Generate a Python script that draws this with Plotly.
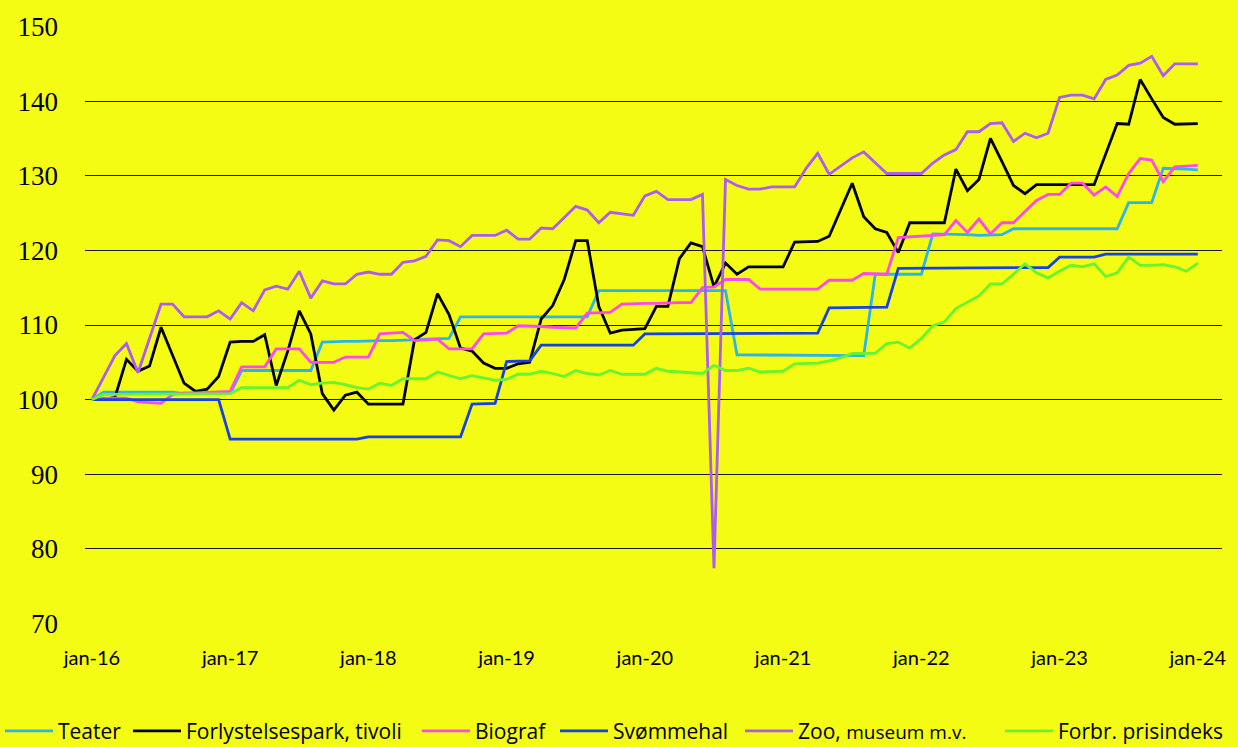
import plotly.graph_objects as go

# month labels jan-16 .. jan-24 (97 months)
mnd = ['jan', 'feb', 'mar', 'apr', 'maj', 'jun', 'jul', 'aug', 'sep', 'okt', 'nov', 'dec']
months = [f'{mnd[i % 12]}-{16 + i // 12}' for i in range(97)]
tick_labels = ['jan-16', 'jan-17', 'jan-18', 'jan-19', 'jan-20', 'jan-21', 'jan-22', 'jan-23', 'jan-24']

teater = [100, 101.0, 101.0, 101.0, 101.0, 101.0, 101.0, 101.0, 100.8, 100.8, 100.8, 100.8,
          100.8, 103.9, 103.9, 103.9, 103.9, 103.9, 103.9, 103.9, 107.7, 107.8, 107.8, 107.8,
          107.9, 107.9, 107.9, 108.0, 108.0, 108.1, 108.1, 108.2, 111.1, 111.1, 111.1, 111.1,
          111.1, 111.1, 111.1, 111.1, 111.1, 111.1, 111.1, 111.1, 114.6, 114.6, 114.6, 114.6,
          114.6, 114.6, 114.6, 114.6, 114.6, 114.6, 114.6, 114.6, 106.0, 106.0, 106.0, 106.0,
          106.0, 106.0, 105.9, 105.9, 105.9, 105.9, 105.9, 105.9, 116.8, 116.8, 116.8, 116.8,
          116.8, 122.2, 122.2, 122.2, 122.1, 122.0, 122.1, 122.1, 122.9, 122.9, 122.9, 122.9,
          122.9, 122.9, 122.9, 122.9, 122.9, 122.9, 126.4, 126.4, 126.4, 131.0, 131.0, 130.9,
          130.8]

tivoli = [100, 100, 100.3, 105.4, 103.8, 104.5, 109.7, 106.0, 102.2, 101.1, 101.4, 103.1,
          107.7, 107.8, 107.8, 108.7, 101.9, 106.5, 111.9, 108.8, 100.8, 98.6, 100.6, 101.0,
          99.4, 99.4, 99.4, 99.4, 108.0, 109.0, 114.2, 111.4, 106.9, 106.5, 104.9, 104.2,
          104.2, 104.8, 105.0, 110.8, 112.6, 116.1, 121.3, 121.3, 112.5, 108.9, 109.3, 109.4,
          109.5, 112.5, 112.5, 118.9, 121.0, 120.5, 115.1, 118.3, 116.8, 117.8, 117.8, 117.8,
          117.8, 121.1, 121.1, 121.2, 121.9, 125.5, 129.0, 124.5, 122.9, 122.4, 119.7, 123.7,
          123.7, 123.7, 123.7, 130.9, 128.0, 129.5, 135.0, 131.9, 128.7, 127.6, 128.8, 128.8,
          128.8, 128.8, 128.8, 128.8, 132.9, 137.0, 136.9, 142.9, 140.3, 137.8, 136.9, 137.0,
          137.0]

biograf = [100, 100.2, 100.2, 100.2, 99.7, 99.6, 99.5, 100.7, 100.9, 100.9, 101.0, 101.0,
           101.1, 104.4, 104.4, 104.4, 106.8, 106.8, 106.8, 105.0, 105.0, 105.0, 105.7, 105.7,
           105.7, 108.8, 108.9, 109.0, 107.9, 108.0, 108.1, 106.8, 106.8, 106.8, 108.8, 108.8,
           108.9, 109.9, 109.9, 109.8, 109.7, 109.7, 109.6, 111.6, 111.7, 111.7, 112.8, 112.9,
           112.9, 112.9, 113.0, 113.0, 113.0, 115.0, 115.1, 116.1, 116.1, 116.1, 114.8, 114.8,
           114.8, 114.8, 114.8, 114.8, 116.0, 116.0, 116.0, 116.9, 116.9, 116.8, 121.7, 121.8,
           121.9, 122.0, 122.1, 124.0, 122.4, 124.2, 122.2, 123.7, 123.7, 125.2, 126.7, 127.5,
           127.5, 129.0, 129.0, 127.4, 128.5, 127.2, 130.3, 132.3, 132.1, 129.2, 131.2, 131.3,
           131.4]

svommehal = [100, 100, 100, 100, 100, 100, 100, 100, 100, 100, 100, 100,
             94.7, 94.7, 94.7, 94.7, 94.7, 94.7, 94.7, 94.7, 94.7, 94.7, 94.7, 94.7,
             95.0, 95.0, 95.0, 95.0, 95.0, 95.0, 95.0, 95.0, 95.0, 99.4, 99.5, 99.5,
             105.1, 105.1, 105.2, 107.3, 107.3, 107.3, 107.3, 107.3, 107.3, 107.3, 107.3, 107.3,
             108.8, 108.8, 108.8, 108.8, 108.8, 108.8, 108.8, 108.8, 108.8, 108.8, 108.8, 108.8,
             108.9, 108.9, 108.9, 108.9, 112.3, 112.3, 112.3, 112.3, 112.4, 112.4, 117.6, 117.6,
             117.6, 117.6, 117.6, 117.6, 117.6, 117.6, 117.6, 117.6, 117.6, 117.6, 117.6, 117.7,
             119.1, 119.1, 119.1, 119.1, 119.5, 119.5, 119.5, 119.5, 119.5, 119.5, 119.5, 119.5,
             119.5]

zoo = [100, 103.0, 105.9, 107.5, 103.6, 108.2, 112.8, 112.8, 111.1, 111.1, 111.1, 111.9,
       110.8, 113.0, 111.9, 114.7, 115.2, 114.8, 117.2, 113.6, 115.9, 115.5, 115.5, 116.8,
       117.1, 116.8, 116.8, 118.4, 118.6, 119.2, 121.4, 121.3, 120.5, 122.0, 122.0, 122.0,
       122.7, 121.5, 121.5, 123.0, 122.9, 124.4, 125.9, 125.4, 123.7, 125.1, 124.9, 124.7,
       127.3, 127.9, 126.8, 126.8, 126.8, 127.5, 77.4, 129.5, 128.7, 128.2, 128.2, 128.5,
       128.5, 128.5, 131.0, 133.0, 130.2, 131.3, 132.4, 133.2, 131.8, 130.3, 130.3, 130.3,
       130.3, 131.7, 132.8, 133.5, 135.9, 135.9, 137.0, 137.1, 134.6, 135.7, 135.1, 135.7,
       140.5, 140.8, 140.8, 140.3, 142.9, 143.5, 144.8, 145.1, 146.0, 143.4, 145.0, 145.0,
       145.0]

cpi = [100, 100.7, 100.7, 100.7, 100.7, 100.7, 100.8, 100.8, 100.8, 100.8, 100.8, 100.8,
       100.8, 101.6, 101.6, 101.7, 101.7, 101.6, 102.6, 102.0, 102.2, 102.3, 102.0, 101.6,
       101.4, 102.2, 101.9, 102.8, 102.8, 102.8, 103.7, 103.3, 102.8, 103.2, 102.9, 102.6,
       102.7, 103.4, 103.4, 103.8, 103.5, 103.1, 103.9, 103.5, 103.3, 103.9, 103.4, 103.4,
       103.4, 104.2, 103.8, 103.7, 103.6, 103.5, 104.6, 103.9, 103.9, 104.2, 103.7, 103.8,
       103.8, 104.8, 104.9, 104.9, 105.2, 105.6, 106.2, 106.2, 106.2, 107.5, 107.7, 106.9,
       108.2, 109.9, 110.4, 112.2, 113.1, 113.9, 115.5, 115.5, 116.8, 118.2, 117.0, 116.3,
       117.2, 118.0, 117.8, 118.2, 116.5, 117.0, 119.1, 118.0, 118.0, 118.1, 117.8, 117.2,
       118.3]

series = [
    ('Teater', teater, '#29B6EE'),
    ('Forlystelsespark, tivoli', tivoli, '#000000'),
    ('Biograf', biograf, '#FF48F0'),
    ('Svømmehal', svommehal, '#1442E6'),
    ("Zoo, <span style='font-size:19px'>museum m.v.</span>", zoo, '#AC5CF4'),
    ('Forbr. prisindeks', cpi, '#66F52E'),
]
# left edge (px) of each legend entry along the bottom row
legend_x = [0, 128, 417, 555, 740, 1000]

W, H = 1238, 747
fig = go.Figure()
legends = {}
for k, (name, vals, col) in enumerate(series):
    lg = 'legend' if k == 0 else f'legend{k + 1}'
    fig.add_trace(go.Scatter(x=months, y=vals, name=name, mode='lines', legend=lg,
                             line=dict(color=col, width=2.8)))
    legends[lg] = dict(orientation='h', xref='container', yref='container',
                       x=legend_x[k] / W, y=0.021, xanchor='left', yanchor='middle',
                       font=dict(size=21, family='Open Sans'), bgcolor='rgba(0,0,0,0)',
                       itemwidth=48)

bg = '#F4FC14'
fig.update_layout(
    width=W, height=H,
    paper_bgcolor=bg, plot_bgcolor=bg,
    margin=dict(l=85, r=16, t=23, b=123),
    font=dict(family='Lato', color='black'),
    showlegend=True,
    **legends,
)
fig.update_xaxes(type='category', range=[-0.6, 98.1],
                 tickmode='array', tickvals=tick_labels, ticktext=tick_labels,
                 showgrid=False, zeroline=False, showline=False, ticks='',
                 tickfont=dict(size=20, family='Lato'), ticklabelstandoff=20)
fig.update_yaxes(range=[69.93, 150.07], dtick=10, showgrid=True, gridcolor='#1a1a00',
                 gridwidth=1, zeroline=False, showline=False, ticks='',
                 tickfont=dict(size=27, family='Liberation Serif'), ticklabelstandoff=26)

fig.write_html('out.html', config={'displayModeBar': False},
               post_script="document.body.style.margin='0';")
